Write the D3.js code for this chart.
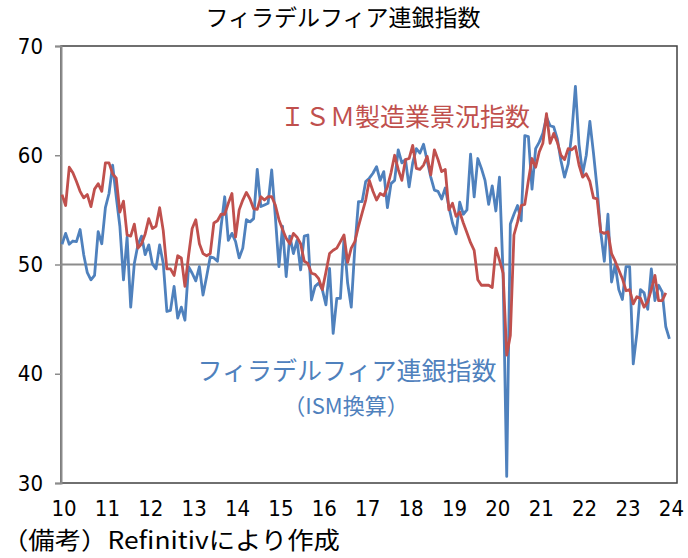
<!DOCTYPE html>
<html>
<head>
<meta charset="utf-8">
<script src="https://cdn.jsdelivr.net/npm/d3@7"></script>
<style>
body { margin: 0; background: #fff; }
text { font-family: "Noto Sans CJK JP", "Noto Sans", sans-serif; }
</style>
</head>
<body>
<div id="chart"></div>
<script>
let width = 688
let height = 558

let margins = {
	'top': 46,
	'right': 11,
	'bottom': 75,
	'left': 61,
}

// monthly, Jan 2010 onwards
let ismValues = [
	56.4, 55.4, 58.9, 58.4, 57.6, 56.7, 56.1, 56.4, 55.3, 56.9, 57.4, 56.7,
	59.3, 59.3, 58.3, 57.9, 54.8, 55.8, 52.7, 52.6, 53.7, 51.5, 51.9, 52.8,
	54.2, 53.3, 53.5, 55.2, 53.1, 49.6, 49.6, 49.0, 50.8, 50.6, 48.0, 50.8,
	53.3, 54.1, 51.9, 51.0, 50.8, 51.0, 53.8, 54.0, 54.6, 54.6, 55.6, 56.5,
	52.5, 55.0, 55.9, 56.6, 56.0, 55.1, 55.05, 56.2, 55.9, 56.2, 56.2, 55.45,
	54.1, 53.2, 52.4, 51.9, 52.85, 52.5, 51.9, 50.3, 50.1, 49.2, 49.1, 48.7,
	47.7, 49.3, 51.0, 51.3, 51.5, 52.1, 52.7, 50.2, 51.5, 52.1, 53.5, 54.7,
	55.9, 57.7, 56.7, 55.9, 56.5, 56.3, 57.1, 58.4, 60.0, 58.7, 57.7, 59.6,
	59.7, 60.9, 58.8, 58.7, 59.1, 59.9, 58.2, 60.5, 59.6, 58.5, 58.7, 55.0,
	55.6, 54.4, 54.8, 53.8, 52.9, 52.0, 51.3, 48.6, 48.1, 48.1, 48.1, 47.9,
	51.5, 50.4, 49.2, 41.7, 43.5, 52.7, 53.9, 55.4, 55.5, 57.7, 59.7, 58.9,
	60.3, 61.1, 63.8, 61.1, 62.0, 61.2, 60.0, 59.6, 60.6, 60.5, 60.8, 59.1,
	58.0, 58.3, 57.6, 56.1, 56.0, 53.0, 52.85, 53.0, 51.0, 50.3, 49.5, 48.7,
	47.6, 47.7, 46.4, 47.05, 46.9, 46.1, 46.6, 47.7, 49.0, 46.7, 46.7, 47.4,
]

let phillyValues = [
	51.85, 52.85, 51.85, 52.15, 52.1, 53.2, 50.9, 49.25, 48.6, 49.0, 53.0, 51.9,
	55.2, 56.5, 59.1, 56.2, 53.5, 48.6, 52.5, 46.1, 50.1, 51.8, 52.6, 50.9,
	51.8, 50.05, 49.6, 51.8, 50.1, 45.7, 45.8, 48.0, 45.1, 46.1, 44.9, 49.8,
	49.2, 48.5, 49.8, 47.2, 48.9, 50.7, 50.6, 50.3, 53.5, 56.2, 52.2, 52.85,
	52.1, 50.6, 51.5, 54.1, 53.9, 54.2, 58.7, 55.3, 55.45, 55.6, 58.65, 54.4,
	49.8, 53.5, 48.9, 52.6, 51.0, 52.2, 49.5, 52.6, 52.7, 46.75, 48.0, 48.3,
	47.7, 46.3, 49.65, 43.7, 46.9, 46.9, 52.4, 48.3, 46.1, 51.6, 55.75, 55.75,
	57.6, 57.9, 58.35, 58.96, 57.7, 58.5, 55.2, 57.4, 57.7, 60.5, 59.3, 59.6,
	57.1, 59.3, 60.6, 60.2, 61.0, 59.5, 58.0, 56.8, 56.7, 56.0, 57.0, 55.3,
	53.8, 52.8, 55.7, 54.6, 55.0, 60.1, 56.2, 59.7, 58.8, 57.7, 55.5, 57.2,
	54.9, 58.0, 49.1, 30.6, 53.7, 54.6, 55.4, 54.0, 61.8, 61.7, 56.9, 60.6,
	61.2, 62.0, 63.5, 62.7, 62.6, 61.5, 59.5, 58.0, 59.2, 62.0, 66.3, 61.0,
	58.3, 60.0, 63.1, 60.2, 57.0, 53.0, 50.3, 54.6, 48.4, 50.0, 47.7, 46.8,
	49.8, 49.8, 40.9, 43.7, 47.7, 47.4, 45.9, 49.6, 46.7, 48.1, 47.5, 44.3,
	43.2,
]

let yearLabels = ['10','11','12','13','14','15','16','17','18','19','20','21','22','23','24']
let yTicks = [30, 40, 50, 60, 70]

let innerW = width - margins.left - margins.right
let innerH = height - margins.top - margins.bottom

// month index -> x
let xScale = d3.scaleLinear()
	.domain([-0.28, 170.1])
	.range([0, innerW])

let yScale = d3.scaleLinear()
	.domain([30, 70])
	.range([innerH, 0])

let svg = d3.select('#chart').append('svg')
	.attr('width', width)
	.attr('height', height)

svg.append('text')
	.attr('x', 343)
	.attr('y', 26)
	.attr('text-anchor', 'middle')
	.attr('font-size', 23)
	.attr('fill', '#000')
	.text('フィラデルフィア連銀指数')

let inner = svg.append('g')
	.attr('transform', 'translate(' + margins.left + ',' + margins.top + ')')

// frame
inner.append('rect')
	.attr('x', 0)
	.attr('y', 0)
	.attr('width', innerW)
	.attr('height', innerH)
	.attr('fill', 'none')
	.attr('stroke', '#404040')
	.attr('stroke-width', 1.5)

let yAxis = d3.axisLeft(yScale)
	.tickValues(yTicks)
	.tickSize(6)
	.tickPadding(12)

let yG = inner.append('g').call(yAxis)
yG.select('.domain').attr('stroke', '#8c8c8c').attr('stroke-width', 2)
yG.selectAll('.tick line').attr('stroke', '#8c8c8c').attr('stroke-width', 1.5)
yG.selectAll('.tick text')
	.attr('font-size', 22)
	.attr('fill', '#000')
	.style('font-family', '"DejaVu Sans Condensed", "Noto Sans CJK JP", sans-serif')

// 50 line
inner.append('line')
	.attr('x1', 0)
	.attr('x2', innerW)
	.attr('y1', yScale(50))
	.attr('y2', yScale(50))
	.attr('stroke', '#8c8c8c')
	.attr('stroke-width', 2)

// year labels
inner.append('g').selectAll('text')
	.data(yearLabels)
	.enter().append('text')
	.attr('x', (d, i) => xScale(i * 12) + 2)
	.attr('y', innerH + 33)
	.attr('text-anchor', 'middle')
	.attr('font-size', 22)
	.attr('fill', '#000')
	.style('font-family', '"DejaVu Sans Condensed", "Noto Sans CJK JP", sans-serif')
	.text((d) => d)

let line = d3.line()
	.x((d, i) => xScale(i))
	.y((d) => yScale(d))

inner.append('path')
	.datum(phillyValues)
	.attr('d', line)
	.attr('fill', 'none')
	.attr('stroke', '#4f81bd')
	.attr('stroke-width', 2.8)
	.attr('stroke-linejoin', 'round')

inner.append('path')
	.datum(ismValues)
	.attr('d', line)
	.attr('fill', 'none')
	.attr('stroke', '#c0504d')
	.attr('stroke-width', 2.8)
	.attr('stroke-linejoin', 'round')

// series labels
svg.append('text')
	.attr('x', 280)
	.attr('y', 126)
	.attr('font-size', 25)
	.attr('fill', '#c0504d')
	.text('ＩＳＭ製造業景況指数')

svg.append('text')
	.attr('x', 347)
	.attr('y', 380)
	.attr('text-anchor', 'middle')
	.attr('font-size', 25)
	.attr('fill', '#4f81bd')
	.text('フィラデルフィア連銀指数')

svg.append('text')
	.attr('x', 346)
	.attr('y', 414)
	.attr('text-anchor', 'middle')
	.attr('font-size', 22)
	.attr('fill', '#4f81bd')
	.text('（ISM換算）')

svg.append('text')
	.attr('x', 2)
	.attr('y', 549)
	.attr('font-size', 24)
	.attr('textLength', 338)
	.attr('lengthAdjust', 'spacingAndGlyphs')
	.attr('fill', '#000')
	.text('（備考）Refinitivにより作成')
</script>
</body>
</html>
